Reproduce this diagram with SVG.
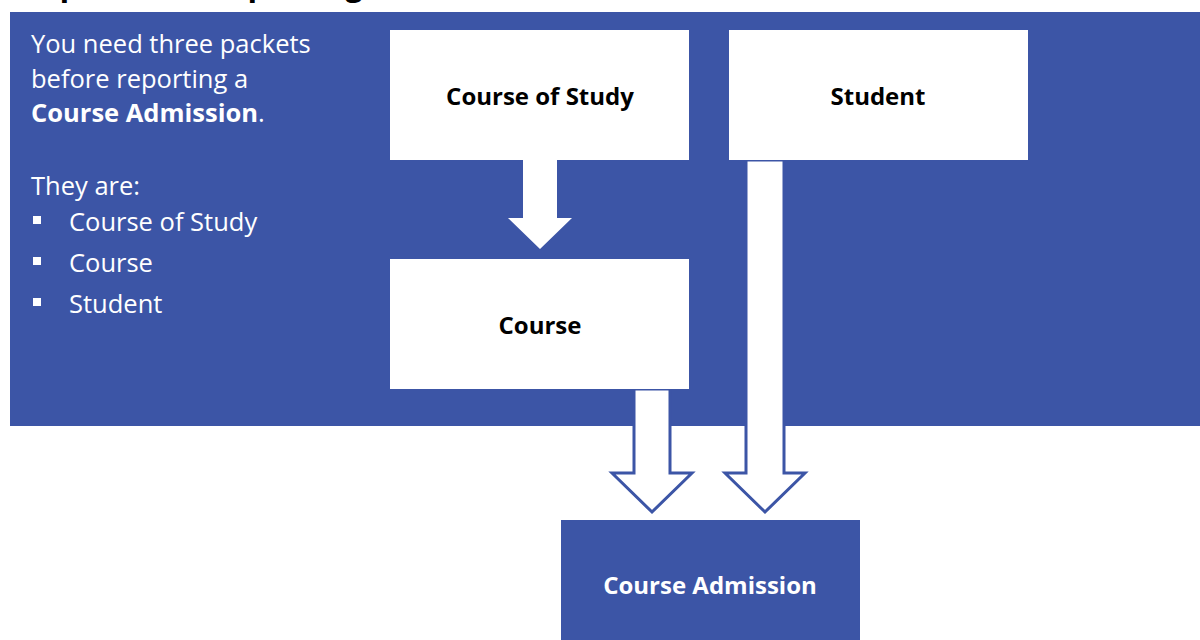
<svg xmlns="http://www.w3.org/2000/svg" width="1200" height="640" viewBox="0 0 1200 640">
  <style>
    .blue { fill: #3c55a6; }
    .box { fill: #ffffff; }
    .lbl { font-family: "Open Sans", "Noto Sans", sans-serif; font-weight: bold; font-size: 24px; text-anchor: middle; fill: #000000; }
    .lblw { fill: #ffffff; }
    .body { font-family: "Open Sans", "Noto Sans", sans-serif; font-size: 25.5px; fill: #ffffff; }
    .arrow { fill: #ffffff; stroke: #3c55a6; stroke-width: 3; stroke-linejoin: miter; }
    .bullet { fill: #ffffff; }
  </style>
  <rect width="1200" height="640" fill="#ffffff"/>
  <text x="10" y="-5" font-family="Open Sans, sans-serif" font-weight="bold" font-size="34" fill="#000000" textLength="353" lengthAdjust="spacingAndGlyphs">Required for reporting</text>

  <rect id="panel" class="blue" x="10" y="12" width="1190" height="414"/>

  <g id="intro">
    <text class="body" x="31" y="53">You need three packets</text>
    <text class="body" x="31" y="88">before reporting a</text>
    <text class="body" x="31" y="122"><tspan font-weight="bold">Course Admission</tspan>.</text>
    <text class="body" x="31" y="195">They are:</text>
    <rect class="bullet" x="33" y="216" width="8" height="8"/>
    <text class="body" x="69" y="231">Course of Study</text>
    <rect class="bullet" x="33" y="257" width="8" height="8"/>
    <text class="body" x="69" y="272">Course</text>
    <rect class="bullet" x="33" y="298" width="8" height="8"/>
    <text class="body" x="69" y="313">Student</text>
  </g>

  <g id="connectors">
    <polygon fill="#ffffff" points="523,160 557,160 557,218 572,218 540,249 508,218 523,218"/>
    <polygon class="arrow" points="634,389 670,389 670,473 692,473 652,512 612,473 634,473"/>
    <polygon class="arrow" points="746,160 784,160 784,473 805,473 765,512 725,473 746,473"/>
  </g>

  <g id="course-of-study">
    <rect class="box" x="390" y="30" width="299" height="130"/>
    <text class="lbl" x="540" y="105">Course of Study</text>
  </g>
  <g id="student">
    <rect class="box" x="729" y="30" width="299" height="130"/>
    <text class="lbl" x="878" y="105">Student</text>
  </g>
  <g id="course">
    <rect class="box" x="390" y="259" width="299" height="130"/>
    <text class="lbl" x="540" y="334">Course</text>
  </g>
  <g id="course-admission">
    <rect class="blue" x="561" y="520" width="299" height="120"/>
    <text class="lbl lblw" x="710" y="594">Course Admission</text>
  </g>
</svg>
